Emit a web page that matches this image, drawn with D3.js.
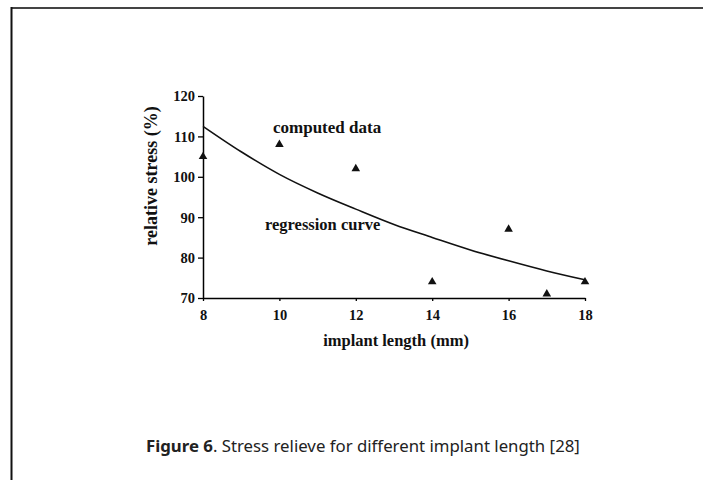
<!DOCTYPE html>
<html>
<head>
<meta charset="utf-8">
<script src="https://cdn.jsdelivr.net/npm/d3@7"></script>
<style>
  body { margin: 0; background: #fff; }
  svg { display: block; }
</style>
</head>
<body>
<div class="chart"></div>
<script>
// values
const lengths = [8, 10, 12, 14, 16, 17, 18];
const stress = [105, 108, 102, 74, 87, 71, 74];
const curveX = [8, 9, 10, 11, 12, 13, 14, 15, 16, 17, 18];
const curveY = [112.5, 106.2, 100.6, 96.0, 92.0, 88.2, 85.0, 81.9, 79.2, 76.7, 74.5];
const xTicks = [8, 10, 12, 14, 16, 18];
const yTicks = [70, 80, 90, 100, 110, 120];

const width = 703;
const height = 480;
const svg = d3.select('.chart')
    .append('svg')
    .attr('width', width)
    .attr('height', height)

// frame round the figure
svg.append('line')
    .attr('x1', 11).attr('x2', width)
    .attr('y1', 8).attr('y2', 8)
    .attr('stroke', '#444').attr('stroke-width', 2)
svg.append('line')
    .attr('x1', 11.5).attr('x2', 11.5)
    .attr('y1', 7).attr('y2', height)
    .attr('stroke', '#111').attr('stroke-width', 2)

const x = d3.scaleLinear().domain([8, 18]).range([203, 585]);
const y = d3.scaleLinear().domain([70, 120]).range([298, 96]);

const serif = '"Liberation Serif", "Times New Roman", serif';

let xAxis = svg.append('g')
    .attr('transform', 'translate(0,' + y(70) + ')')
    .call(d3.axisBottom(x).tickValues(xTicks).tickSizeInner(3).tickSizeOuter(0).tickPadding(9))
xAxis.select('.domain').attr('stroke-width', 1.5)
xAxis.selectAll('.tick line').attr('stroke-width', 1.3)
xAxis.selectAll('text')
    .attr('font-family', serif)
    .attr('font-weight', 'bold')
    .attr('font-size', 14.5)
    .attr('fill', '#111')

let yAxis = svg.append('g')
    .attr('transform', 'translate(' + x(8) + ',0)')
    .call(d3.axisLeft(y).tickValues(yTicks).tickSizeInner(5).tickSizeOuter(0).tickPadding(3))
yAxis.select('.domain').attr('stroke-width', 1.5)
yAxis.selectAll('.tick line').attr('stroke-width', 1.3)
yAxis.selectAll('text')
    .attr('font-family', serif)
    .attr('font-weight', 'bold')
    .attr('font-size', 14.5)
    .attr('fill', '#111')
    .attr('dy', '0.34em')

// regression curve
let line = d3.line()
    .x(function(d) { return x(d[0]); })
    .y(function(d) { return y(d[1]); })
    .curve(d3.curveMonotoneX)
svg.append('path')
    .datum(d3.zip(curveX, curveY))
    .attr('d', line)
    .attr('fill', 'none')
    .attr('stroke', '#111')
    .attr('stroke-width', 1.6)

// computed data
svg.selectAll('.pt')
    .data(d3.zip(lengths, stress))
    .enter()
    .append('path')
    .attr('class', 'pt')
    .attr('d', d3.symbol().type(d3.symbolTriangle).size(32))
    .attr('transform', function(d) { return 'translate(' + x(d[0]) + ',' + y(d[1]) + ')'; })
    .attr('fill', '#111')

// labels
svg.append('text')
    .text('computed data')
    .attr('x', 273).attr('y', 133)
    .attr('font-family', serif).attr('font-weight', 'bold').attr('font-size', 17)
    .attr('fill', '#111')
svg.append('text')
    .text('regression curve')
    .attr('x', 265).attr('y', 230)
    .attr('font-family', serif).attr('font-weight', 'bold').attr('font-size', 16.5)
    .attr('fill', '#111')
svg.append('text')
    .text('implant length (mm)')
    .attr('x', 396).attr('y', 346)
    .attr('text-anchor', 'middle')
    .attr('font-family', serif).attr('font-weight', 'bold').attr('font-size', 16.5)
    .attr('fill', '#111')
svg.append('text')
    .text('relative stress (%)')
    .attr('transform', 'translate(157,176) rotate(-90)')
    .attr('text-anchor', 'middle')
    .attr('font-family', serif).attr('font-weight', 'bold').attr('font-size', 18)
    .attr('fill', '#111')

// caption
let caption = svg.append('text')
    .attr('x', 146).attr('y', 452)
    .attr('font-family', '"Noto Sans", "Open Sans", sans-serif')
    .attr('font-size', 16.8)
    .attr('fill', '#222')
caption.append('tspan').attr('font-weight', 'bold').text('Figure 6')
caption.append('tspan').text('. Stress relieve for different implant length [28]')
</script>
</body>
</html>
